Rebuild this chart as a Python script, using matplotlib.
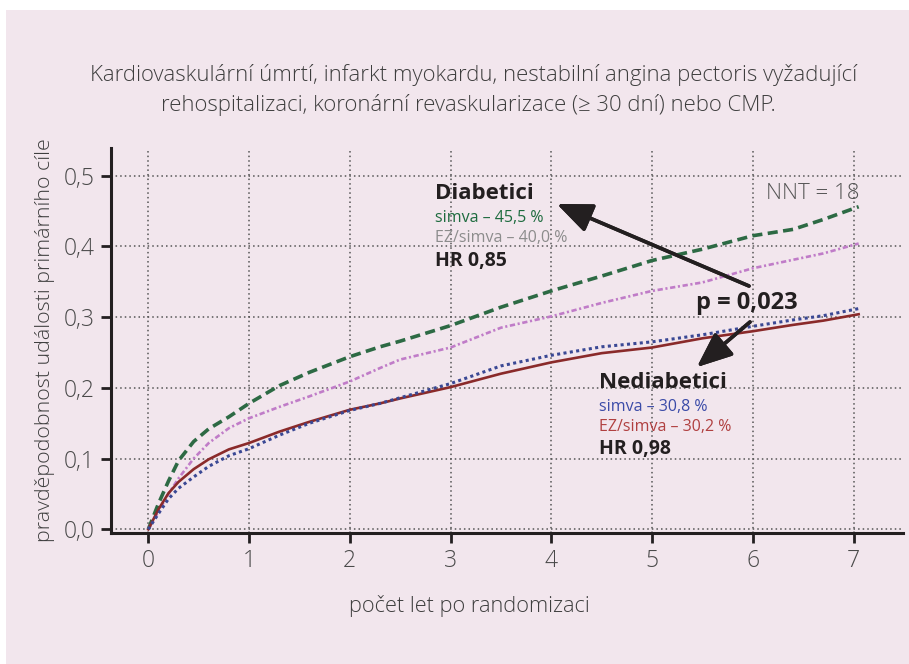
import matplotlib
matplotlib.use("Agg")
import matplotlib.pyplot as plt
from matplotlib.patches import Rectangle

# years since randomization (shared x for all four curves)
years = [0, 0.05, 0.1, 0.2, 0.3, 0.45, 0.6, 0.8, 1.0, 1.3, 1.6, 2.0, 2.3, 2.5,
         3.0, 3.5, 4.0, 4.5, 5.0, 5.5, 6.0, 6.4, 6.7, 7.05]

# cumulative probability of the primary endpoint
diab_simva = [0, 0.018, 0.036, 0.068, 0.097, 0.124, 0.142, 0.159, 0.178, 0.203,
              0.222, 0.244, 0.258, 0.266, 0.288, 0.314, 0.337, 0.358, 0.380,
              0.396, 0.415, 0.424, 0.438, 0.456]
diab_ezsimva = [0, 0.012, 0.025, 0.050, 0.072, 0.100, 0.122, 0.143, 0.157, 0.173,
                0.188, 0.209, 0.228, 0.240, 0.257, 0.285, 0.301, 0.320, 0.337,
                0.349, 0.369, 0.381, 0.390, 0.404]
nondiab_simva = [0, 0.011, 0.022, 0.043, 0.058, 0.074, 0.089, 0.104, 0.114, 0.133,
                 0.150, 0.168, 0.178, 0.186, 0.206, 0.231, 0.246, 0.258, 0.265,
                 0.275, 0.287, 0.296, 0.302, 0.312]
nondiab_ezsimva = [0, 0.014, 0.028, 0.051, 0.067, 0.085, 0.099, 0.113, 0.122, 0.138,
                   0.152, 0.169, 0.178, 0.185, 0.201, 0.220, 0.236, 0.249, 0.257,
                   0.270, 0.280, 0.289, 0.295, 0.304]

xticks = [0, 1, 2, 3, 4, 5, 6, 7]
yticks = [0.0, 0.1, 0.2, 0.3, 0.4, 0.5]
ytick_labels = ["0,0", "0,1", "0,2", "0,3", "0,4", "0,5"]

title_lines = ["Kardiovaskulární úmrtí, infarkt myokardu, nestabilní angina pectoris vyžadující",
               "rehospitalizaci, koronární revaskularizace (≥ 30 dní) nebo CMP."]

plt.rcParams["font.family"] = ["Open Sans", "DejaVu Sans"]

W, H = 909, 664
BG = "#f2e6ed"
INK = "#231f20"
GREY = "#3e3e3e"


def fx(px):
    return px / W


def fy(py):
    return 1 - py / H


fig = plt.figure(figsize=(W / 100, H / 100), dpi=100)
fig.patch.set_facecolor("white")
fig.add_artist(Rectangle((fx(6), 0), 1, fy(10), transform=fig.transFigure,
                         facecolor=BG, edgecolor="none", zorder=-10))

ax = fig.add_axes([fx(110.7), fy(533), fx(903) - fx(110.7), fy(148) - fy(533)])
ax.set_facecolor("none")

ax.plot(years, diab_simva, color="#2d6a44", lw=2.6, dashes=(2.8, 1.5),
        solid_capstyle="butt", zorder=4)
ax.plot(years, diab_ezsimva, color="#c07cc8", lw=1.9, linestyle=(0, (2.0, 1.0, 0.8, 1.0)),
        zorder=4)
ax.plot(years, nondiab_ezsimva, color="#8a2a2a", lw=1.9, zorder=4)
ax.plot(years, nondiab_simva, color="#3a4894", lw=2.2, linestyle=(0, (1, 1.1)), zorder=5)

ax.set_xlim(-0.373, 7.49)
ax.set_ylim(-0.0052, 0.539)
ax.set_xticks(xticks)
ax.set_xticklabels([str(t) for t in xticks])
ax.set_yticks(yticks)
ax.set_yticklabels(ytick_labels)

for side in ("top", "right"):
    ax.spines[side].set_visible(False)
for side in ("left", "bottom"):
    ax.spines[side].set_color(INK)
    ax.spines[side].set_linewidth(2.2)

ax.tick_params(axis="both", length=7.5, width=2, color=INK, labelcolor="#4a4a4a",
               labelsize=16.5)
ax.tick_params(axis="x", pad=4)
ax.tick_params(axis="y", pad=4)
for lab in ax.get_xticklabels() + ax.get_yticklabels():
    lab.set_fontweight("light")

ax.grid(True, linestyle=(0, (1, 2)), color="#555555", lw=1.1, zorder=1)
ax.set_axisbelow(True)

# titles and axis labels
fig.text(fx(474), fy(75), title_lines[0], ha="center", va="center",
         fontsize=15.9, color=GREY, fontweight="light")
fig.text(fx(468), fy(105), title_lines[1], ha="center", va="center",
         fontsize=15.9, color=GREY, fontweight="light")
fig.text(fx(45), fy(340), "pravděpodobnost události primárního cíle", rotation=90,
         ha="center", va="center", fontsize=15.4, color=GREY, fontweight="light")
fig.text(fx(469), fy(606), "počet let po randomizaci", ha="center", va="center",
         fontsize=15.7, color=GREY, fontweight="light")

# group labels
fig.text(fx(435), fy(193), "Diabetici", ha="left", va="center", fontsize=16,
         fontweight="bold", color=INK)
fig.text(fx(435), fy(218), "simva – 45,5 %", ha="left", va="center", fontsize=11.5,
         color="#1d6b3e")
fig.text(fx(435), fy(238), "EZ/simva – 40,0 %", ha="left", va="center", fontsize=11.5,
         color="#8c8c8c")
fig.text(fx(435), fy(261), "HR 0,85", ha="left", va="center", fontsize=14,
         fontweight="bold", color=INK)

fig.text(fx(599), fy(383), "Nediabetici", ha="left", va="center", fontsize=16,
         fontweight="bold", color=INK)
fig.text(fx(599), fy(407), "simva – 30,8 %", ha="left", va="center", fontsize=11.5,
         color="#3b4ba8")
fig.text(fx(599), fy(427), "EZ/simva – 30,2 %", ha="left", va="center", fontsize=11.5,
         color="#b04040")
fig.text(fx(599), fy(449), "HR 0,98", ha="left", va="center", fontsize=14,
         fontweight="bold", color=INK)

fig.text(fx(860), fy(193), "NNT = 18", ha="right", va="center", fontsize=16,
         color="#555555", fontweight="light")
fig.text(fx(747), fy(303), "p = 0,023", ha="center", va="center", fontsize=17,
         fontweight="bold", color=INK)

arrow = dict(arrowstyle="-|>,head_length=1.2,head_width=0.5", color=INK, lw=2.6,
             mutation_scale=18, shrinkA=0, shrinkB=0)
fig.add_artist(plt.annotate("", xy=(fx(557), fy(204)), xytext=(fx(749), fy(286)),
                            xycoords="figure fraction", textcoords="figure fraction",
                            arrowprops=arrow))
fig.add_artist(plt.annotate("", xy=(fx(697), fy(367)), xytext=(fx(750), fy(322)),
                            xycoords="figure fraction", textcoords="figure fraction",
                            arrowprops=arrow))

fig.savefig("out.png", dpi=100, facecolor=fig.get_facecolor())
